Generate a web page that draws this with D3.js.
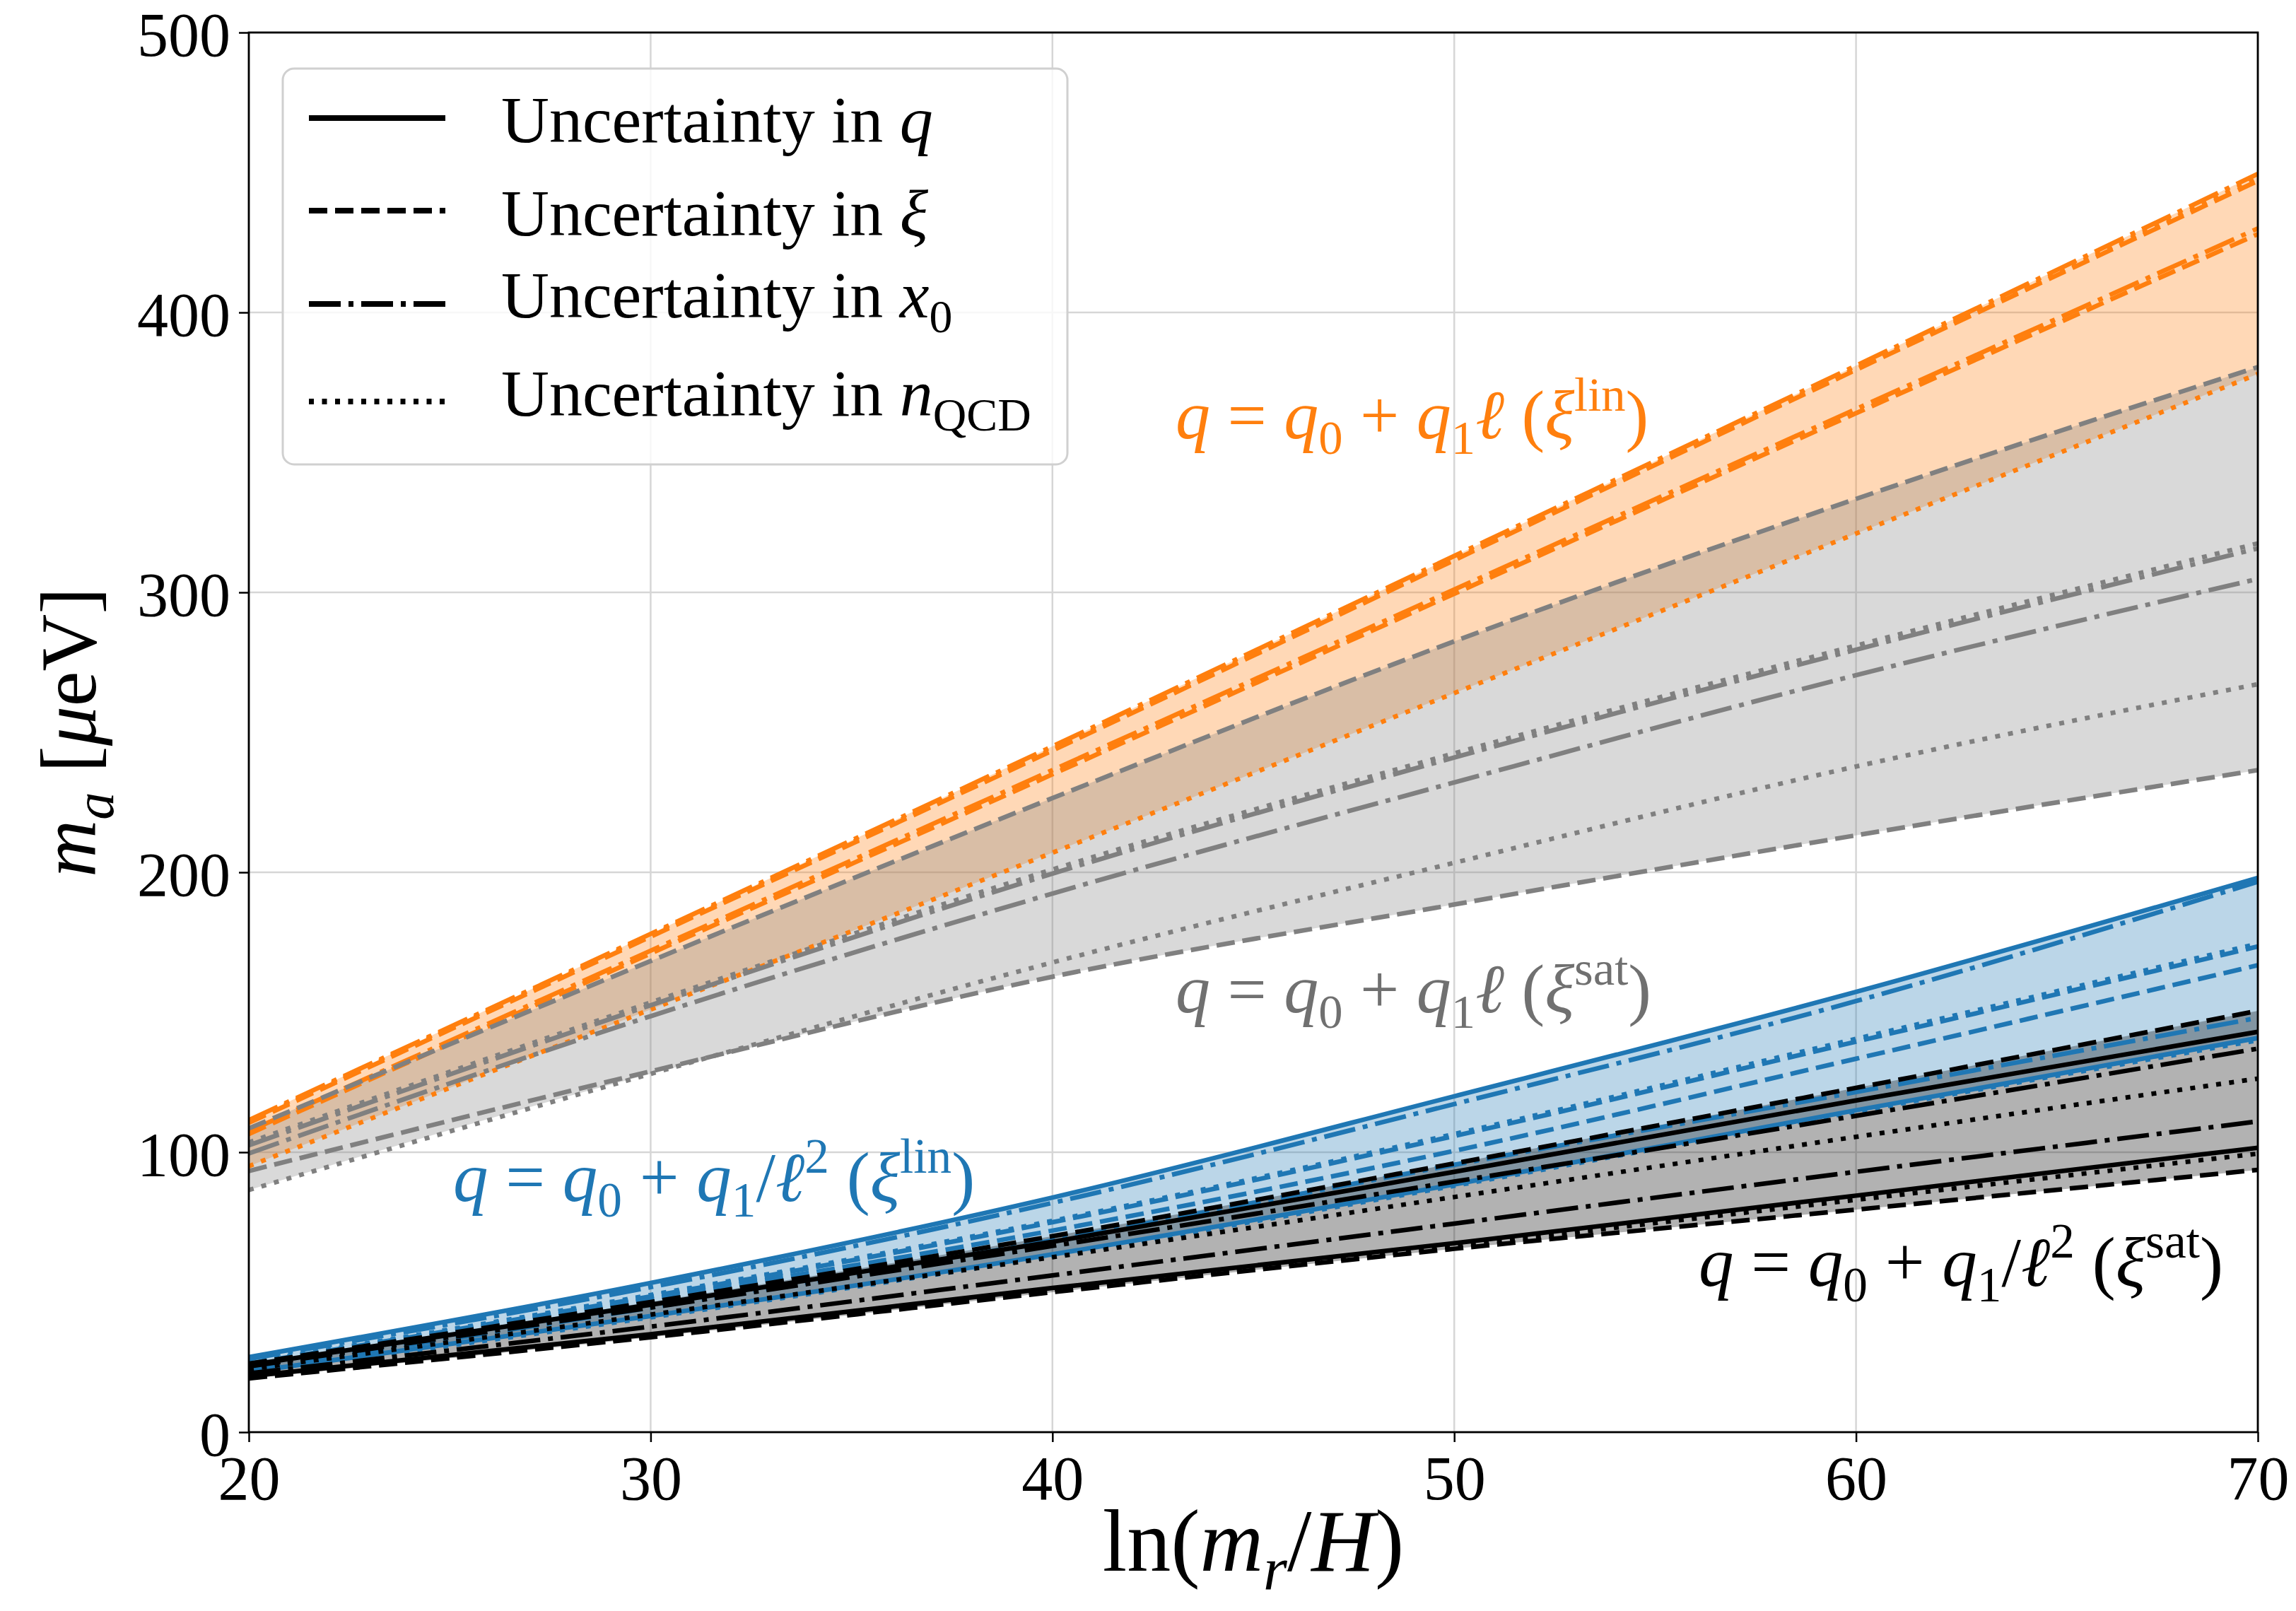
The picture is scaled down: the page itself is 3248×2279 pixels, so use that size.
<!DOCTYPE html>
<html>
<head>
<meta charset="utf-8">
<script src="https://cdn.jsdelivr.net/npm/d3@7"></script>
<style>
  html, body { margin:0; padding:0; background:#fff; }
  svg text { white-space: pre; }
</style>
</head>
<body>
<svg id="chart" width="3248" height="2279"></svg>
<script>
// ---------------- DATA ----------------
const xValues = [20, 30, 40, 50, 60, 70];
const xTicks = [20, 30, 40, 50, 60, 70];
const yTicks = [0, 100, 200, 300, 400, 500];

// q = q0 + q1 l  (xi lin)  -- orange
const orangeDashdotHi = [111.5, 178, 245, 313, 381, 449.5];
const orangeDashedHi  = [110.5, 177, 243.5, 311.5, 379.5, 447];
const orangeDottedHi  = [111, 177.5, 244, 312, 380, 448];
const orangeDashdotLo = [107.5, 172, 236.5, 301, 365.5, 430];
const orangeDashedLo  = [106.5, 171, 235, 299.5, 364, 428];
const orangeDottedLo  = [95, 151, 207, 264, 321, 378];

// q = q0 + q1 l  (xi sat)  -- gray
const grayDashedHi  = [108.5, 168.3, 226.5, 282.5, 333.4, 380.5];
const grayDottedHi  = [103.5, 153.5, 201, 242.5, 281, 317.5];
const grayDashdotHi = [102.5, 152.5, 199.5, 241, 279.5, 315.7];
const grayDashdotLo = [99.6, 148.6, 192.4, 232.1, 270.4, 304.8];
const grayDottedLo  = [86.5, 128, 167.8, 203.4, 237.8, 267.2];
const grayDashedLo  = [93.3, 128.9, 162.7, 188.5, 213.2, 236.5];

// q = q0 + q1/l^2 (xi lin) -- blue
const blueSolidHi   = [26.8, 53.3, 83.8, 120.0, 157.3, 198.0];
const blueDashdotHi = [26.2, 51.8, 81.9, 117.2, 154.0, 196.6];
const blueDottedHi  = [24.8, 49, 75.5, 106.5, 140.5, 174.5];
const blueDashedHi  = [24.5, 48.5, 75.0, 105.8, 139.5, 173.5];
const blueDashedLo  = [24, 47.5, 72.0, 100.5, 133.4, 166.8];
const blueDashdotLo = [22.5, 44.5, 68.5, 95.5, 121.5, 148];
const blueSolidLo   = [21.5, 41.5, 63.5, 88.5, 115, 140.8];
const blueDottedLo  = [21.3, 41, 63, 88, 114.5, 140];

// q = q0 + q1/l^2 (xi sat) -- black
const blackDashedHi  = [24.5, 46.5, 70, 96, 123, 150.5];
const blackSolidHi   = [24, 45.5, 68, 93, 118.5, 143];
const blackDashdotHi = [23.5, 44.5, 66.5, 89.5, 113, 137];
const blackDottedHi  = [22.5, 42, 62.5, 84, 105.5, 126.3];
const blackDashdotLo = [21, 37.7, 56, 74.5, 93, 111];
const blackSolidLo   = [20, 35, 51.5, 67.5, 84.5, 101.6];
const blackDottedLo  = [19.8, 34.5, 51, 66.5, 83, 99.5];
const blackDashedLo  = [19.2, 33.9, 50, 65.5, 79.5, 93.7];

const legendLabels = ["q", "ξ", "x0", "nQCD"];

// ---------------- STYLE / LAYOUT ----------------
const FONT = "'Liberation Serif', 'DejaVu Serif', serif";
const W = 3248, H = 2279;
const L = 352, R = 3194, T = 46, B = 2026;
const LW = 6.5;
const DASH = {
  solid: null,
  dashed: "26,11",
  dashdot: "45,11,7,11",
  dotted: "7,11.5"
};

const groups = [
  { color: "#ff7f0e", lines: [
      ["dashdot", orangeDashdotHi], ["dashed", orangeDashedHi], ["dotted", orangeDottedHi],
      ["dashdot", orangeDashdotLo], ["dashed", orangeDashedLo], ["dotted", orangeDottedLo]] },
  { color: "#808080", lines: [
      ["dashed", grayDashedHi], ["dotted", grayDottedHi], ["dashdot", grayDashdotHi],
      ["dashdot", grayDashdotLo], ["dotted", grayDottedLo], ["dashed", grayDashedLo]] },
  { color: "#1f77b4", lines: [
      ["solid", blueSolidHi], ["dashdot", blueDashdotHi], ["dotted", blueDottedHi],
      ["dashed", blueDashedHi], ["dashed", blueDashedLo], ["dashdot", blueDashdotLo],
      ["solid", blueSolidLo], ["dotted", blueDottedLo]] },
  { color: "#000000", lines: [
      ["dashed", blackDashedHi], ["solid", blackSolidHi], ["dashdot", blackDashdotHi],
      ["dotted", blackDottedHi], ["dashdot", blackDashdotLo], ["solid", blackSolidLo],
      ["dotted", blackDottedLo], ["dashed", blackDashedLo]] }
];

const svg = d3.select("#chart");
svg.append("rect").attr("width", W).attr("height", H).attr("fill", "#fff");

const x = d3.scaleLinear().domain([20, 70]).range([L, R]);
const y = d3.scaleLinear().domain([0, 500]).range([B, T]);

svg.append("defs").append("clipPath").attr("id", "clip")
  .append("rect").attr("x", L).attr("y", T).attr("width", R - L).attr("height", B - T);

// grid
const grid = svg.append("g");
grid.selectAll(".gx").data(xTicks).enter().append("line")
  .attr("x1", d => x(d)).attr("x2", d => x(d)).attr("y1", T).attr("y2", B)
  .attr("stroke", "#d6d6d6").attr("stroke-width", 2.5);
grid.selectAll(".gy").data(yTicks).enter().append("line")
  .attr("x1", L).attr("x2", R).attr("y1", d => y(d)).attr("y2", d => y(d))
  .attr("stroke", "#d6d6d6").attr("stroke-width", 2.5);

const plot = svg.append("g").attr("clip-path", "url(#clip)");

// fills
const area = d3.area()
  .x(d => x(d.x)).y0(d => y(d.lo)).y1(d => y(d.hi))
  .curve(d3.curveMonotoneX);
groups.forEach(g => {
  const band = xValues.map((xv, i) => ({
    x: xv,
    lo: d3.min(g.lines, l => l[1][i]),
    hi: d3.max(g.lines, l => l[1][i])
  }));
  plot.append("path").datum(band).attr("d", area)
    .attr("fill", g.color).attr("fill-opacity", 0.3).attr("stroke", "none");
});

// lines
const line = d3.line().x(d => x(d.x)).y(d => y(d.v)).curve(d3.curveMonotoneX);
groups.forEach(g => {
  g.lines.forEach(([style, vals]) => {
    const pts = xValues.map((xv, i) => ({ x: xv, v: vals[i] }));
    const p = plot.append("path").datum(pts).attr("d", line)
      .attr("fill", "none").attr("stroke", g.color).attr("stroke-width", LW)
      .attr("stroke-linecap", "butt").attr("stroke-linejoin", "round");
    if (DASH[style]) p.attr("stroke-dasharray", DASH[style]);
  });
});

// axes
const xAxis = d3.axisBottom(x).tickValues(xTicks).tickSize(14).tickSizeOuter(0).tickPadding(19);
const yAxis = d3.axisLeft(y).tickValues(yTicks).tickSize(14).tickSizeOuter(0).tickPadding(12);
const gx = svg.append("g").attr("transform", `translate(0,${B})`).call(xAxis);
const gy = svg.append("g").attr("transform", `translate(${L},0)`).call(yAxis);
[gx, gy].forEach(g => {
  g.selectAll("path.domain").remove();
  g.selectAll(".tick line").attr("stroke", "#000").attr("stroke-width", 2.5);
  g.selectAll(".tick text").attr("font-family", FONT).attr("font-size", 88).attr("fill", "#000");
});
gy.selectAll(".tick text").attr("dy", "0.37em");
svg.append("rect").attr("x", L).attr("y", T).attr("width", R - L).attr("height", B - T)
  .attr("fill", "none").attr("stroke", "#000").attr("stroke-width", 2.8);

// math text helper
function mathText(parent, px, py, parts, size, color, anchor, rotate) {
  const t = parent.append("text")
    .attr("x", px).attr("y", py)
    .attr("font-family", FONT).attr("font-size", size)
    .attr("fill", color).attr("text-anchor", anchor || "start");
  if (rotate) t.attr("transform", `rotate(${rotate},${px},${py})`);
  let cur = 0;
  parts.forEach(p => {
    const target = p.sub ? 0.22 * size : (p.sup ? -0.40 * size : 0);
    const ts = t.append("tspan").text(p.t).attr("dy", target - cur);
    cur = target;
    if (p.sub || p.sup) ts.attr("font-size", size * 0.7);
    if (p.i) ts.attr("font-style", "italic");
  });
  return t;
}

// axis labels
mathText(svg, (L + R) / 2, 2222, [
  { t: "ln(" }, { t: "m", i: 1 }, { t: "r", i: 1, sub: 1 }, { t: "/" }, { t: "H", i: 1 }, { t: ")" }
], 124, "#000", "middle");
mathText(svg, 135, (T + B) / 2, [
  { t: "m", i: 1 }, { t: "a", i: 1, sub: 1 }, { t: " [" }, { t: "μ", i: 1 }, { t: "eV]" }
], 112, "#000", "middle", -90);

// annotations
function qLin(sup) {
  return [{ t: "q", i: 1 }, { t: " = " }, { t: "q", i: 1 }, { t: "0", sub: 1 }, { t: " + " },
          { t: "q", i: 1 }, { t: "1", sub: 1 }, { t: "ℓ", i: 1 }, { t: " (" }, { t: "ξ", i: 1 },
          { t: sup, sup: 1 }, { t: ")" }];
}
function qInv(sup) {
  return [{ t: "q", i: 1 }, { t: " = " }, { t: "q", i: 1 }, { t: "0", sub: 1 }, { t: " + " },
          { t: "q", i: 1 }, { t: "1", sub: 1 }, { t: "/" }, { t: "ℓ", i: 1 }, { t: "2", sup: 1 },
          { t: " (" }, { t: "ξ", i: 1 }, { t: sup, sup: 1 }, { t: ")" }];
}
mathText(svg, 1663, 620, qLin("lin"), 98, "#ff7f0e");
mathText(svg, 1663, 1432, qLin("sat"), 98, "#707070");
mathText(svg, 641, 1699, qInv("lin"), 99, "#1f77b4");
mathText(svg, 2403, 1819, qInv("sat"), 99, "#000");

// legend
const leg = svg.append("g");
leg.append("rect").attr("x", 400).attr("y", 97).attr("width", 1110).attr("height", 560)
  .attr("rx", 16).attr("fill", "#fff").attr("fill-opacity", 0.8)
  .attr("stroke", "#d0d0d0").attr("stroke-width", 3);
const legStyles = ["solid", "dashed", "dashdot", "dotted"];
const legLineY = [167, 298, 430, 568];
const legTextY = [201, 333, 449, 588];
const legParts = [
  [{ t: "Uncertainty in " }, { t: "q", i: 1 }],
  [{ t: "Uncertainty in " }, { t: "ξ", i: 1 }],
  [{ t: "Uncertainty in " }, { t: "x", i: 1 }, { t: "0", sub: 1 }],
  [{ t: "Uncertainty in " }, { t: "n", i: 1 }, { t: "QCD", sub: 1 }]
];
legendLabels.forEach((lab, i) => {
  const ln = leg.append("line").attr("x1", 437).attr("x2", 630)
    .attr("y1", legLineY[i]).attr("y2", legLineY[i])
    .attr("stroke", "#000").attr("stroke-width", 8);
  if (DASH[legStyles[i]]) ln.attr("stroke-dasharray", DASH[legStyles[i]]);
  mathText(leg, 709, legTextY[i], legParts[i], 94, "#000");
});
</script>
</body>
</html>
